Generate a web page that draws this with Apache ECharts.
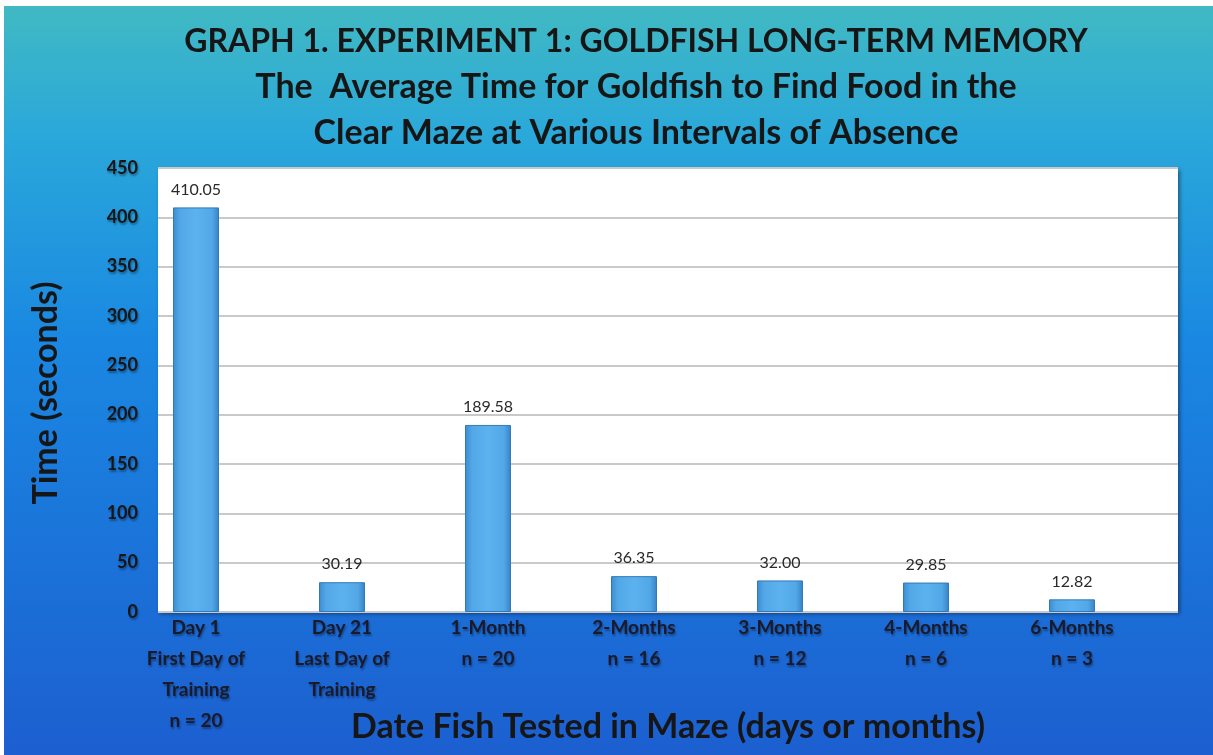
<!DOCTYPE html>
<html>
<head>
<meta charset="utf-8">
<script src="https://cdn.jsdelivr.net/npm/echarts@6/dist/echarts.min.js"></script>
<style>
html,body{margin:0;padding:0;}
#chart{width:1213px;height:755px;}
</style>
</head>
<body>
<div id="chart"></div>
<script>
const titleLines = [
  'GRAPH 1. EXPERIMENT 1: GOLDFISH LONG-TERM MEMORY',
  'The  Average Time for Goldfish to Find Food in the',
  'Clear Maze at Various Intervals of Absence'
];
const categories = [
  'Day 1\nFirst Day of\nTraining\nn = 20',
  'Day 21\nLast Day of\nTraining',
  '1-Month\nn = 20',
  '2-Months\nn = 16',
  '3-Months\nn = 12',
  '4-Months\nn = 6',
  '6-Months\nn = 3'
];
const avgTime = [410.05, 30.19, 189.58, 36.35, 32.00, 29.85, 12.82];
const yAxisName = 'Time (seconds)';
const xAxisName = 'Date Fish Tested in Maze (days or months)';
const yMin = 0, yMax = 450, yStep = 50;

const FONT = 'Lato';
const shadow = {textShadowColor:'rgba(0,0,0,0.35)', textShadowBlur:2, textShadowOffsetX:1, textShadowOffsetY:2};
const gShadow = {shadowColor:'rgba(0,0,0,0.35)', shadowBlur:2, shadowOffsetX:1, shadowOffsetY:2};

const titleGraphics = titleLines.map((t,i)=>({
  type:'text', x:636, y:[42,87,133][i],
  style:Object.assign({text:t, font:'bold '+[32,34,34][i]+'px '+FONT, fill:'#161616', textAlign:'center', textVerticalAlign:'middle'}, gShadow)
}));

const chart = echarts.init(document.getElementById('chart'), null, {renderer:'canvas'});
const option = {
  animation:false,
  backgroundColor:{
    type:'linear', x:0, y:0, x2:0, y2:1,
    colorStops:[
      {offset:0, color:'#42bac2'},
      {offset:0.18, color:'#2aa8da'},
      {offset:0.45, color:'#1a88e2'},
      {offset:1, color:'#1c5fd0'}
    ]
  },
  graphic:[
    {type:'rect', left:0, top:0, shape:{width:1213, height:6}, style:{fill:'#ffffff'}, z:-1},
    {type:'rect', left:0, top:0, shape:{width:4, height:755}, style:{fill:'#ffffff'}, z:-1},
    ...titleGraphics,
    {type:'text', x:46, y:393, rotation:Math.PI/2, style:Object.assign({text:yAxisName, font:'bold 34px '+FONT, fill:'#161616', textAlign:'center', textVerticalAlign:'middle'}, gShadow)},
    {type:'text', x:668, y:727, style:Object.assign({text:xAxisName, font:'bold 34px '+FONT, fill:'#161616', textAlign:'center', textVerticalAlign:'middle'}, gShadow)}
  ],
  grid:[
    {left:158, right:35, top:168, bottom:143, show:true, backgroundColor:'#ffffff', borderWidth:0, shadowColor:'rgba(0,0,0,0.4)', shadowBlur:4, shadowOffsetX:2, shadowOffsetY:2},
    {left:123, right:68, top:168, bottom:143}
  ],
  xAxis:[
    {type:'category', gridIndex:0, data:categories, show:false},
    {type:'category', gridIndex:1, data:categories,
     axisLine:{show:false}, axisTick:{show:false},
     axisLabel:Object.assign({interval:0, margin:0, fontFamily:FONT, fontWeight:'bold', fontSize:19, lineHeight:31, color:'#1a1a2a', verticalAlign:'top'}, shadow)}
  ],
  yAxis:[
    {type:'value', gridIndex:0, min:yMin, max:yMax, interval:yStep,
     axisLine:{show:false}, axisTick:{show:false},
     splitLine:{lineStyle:{color:'#c9c9c9', width:2}},
     axisLabel:Object.assign({margin:20, fontFamily:FONT, fontWeight:'bold', fontSize:18, color:'#161616'}, shadow)},
    {type:'value', gridIndex:1, min:yMin, max:yMax, interval:yStep, show:false, splitLine:{show:false}}
  ],
  series:[{
    type:'bar', xAxisIndex:1, yAxisIndex:1, data:avgTime, barWidth:46,
    itemStyle:{
      color:{type:'linear', x:0, y:0, x2:1, y2:0, colorStops:[
        {offset:0, color:'#3c8ccf'},{offset:0.15, color:'#52a7e6'},{offset:0.5, color:'#5cb2ee'},{offset:0.85, color:'#52a7e6'},{offset:1, color:'#3682c4'}]},
      borderColor:'#3479b6', borderWidth:1
    },
    label:{show:true, position:'top', distance:10, formatter:p=>p.value.toFixed(2), fontFamily:FONT, fontSize:16, color:'#2a2a2a'}
  }]
};
chart.setOption(option);
</script>
</body>
</html>
